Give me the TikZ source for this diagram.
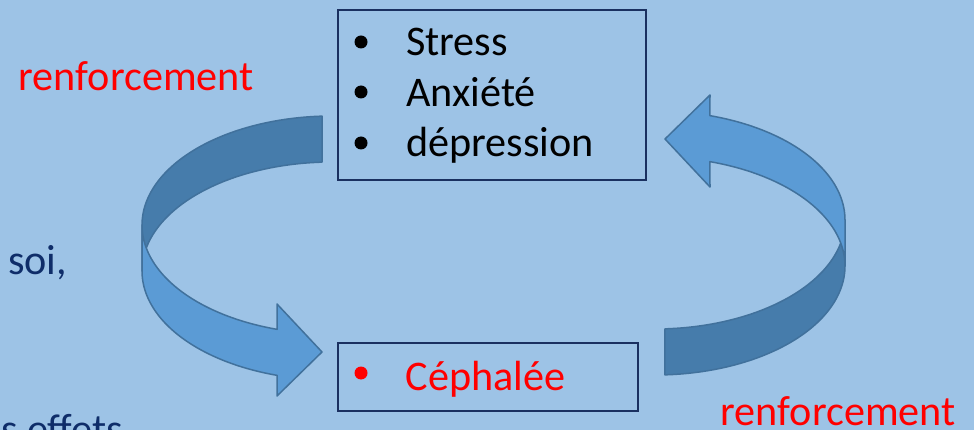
\documentclass[tikz,border=0pt]{standalone}
\usepackage{fontspec}
\setmainfont{Carlito}
\definecolor{bgc}{HTML}{9DC3E6}
\definecolor{frontc}{HTML}{5B9BD5}
\definecolor{backc}{HTML}{467CAB}
\definecolor{edgec}{HTML}{41719C}
\definecolor{navy}{HTML}{0F2D69}
\definecolor{boxc}{HTML}{1A3060}
\definecolor{redc}{HTML}{FF0000}
\newcommand{\cyclearrow}{%
  \filldraw[backc,draw=edgec,line width=1.5pt,line join=round]
    plot[domain=267:180,samples=60] ({332+190*cos(\x)},{225+109*sin(\x)})
    -- plot[domain=180:267,samples=60] ({332+190*cos(\x)},{271+109*sin(\x)}) -- cycle;
  \filldraw[frontc,draw=edgec,line width=1.5pt,line join=round]
    plot[domain=180:106.8,samples=60] ({332+190*cos(\x)},{225+109*sin(\x)})
    -- (277,304) -- (322,352) -- (277,396)
    -- plot[domain=106.8:180,samples=60] ({332+190*cos(\x)},{271+109*sin(\x)}) -- cycle;
}
\tikzset{
  txt/.style={anchor=base west,inner sep=0pt,font=\fontsize{42.2}{50}\selectfont},
  listbox/.style={draw=boxc,line width=1.6pt},
  bul/.style={circle,fill=#1,inner sep=0pt,minimum size=13pt}
}
\begin{document}
\begin{tikzpicture}[x=1pt,y=-1pt]
\fill[bgc] (0,0) rectangle (974,430);
\useasboundingbox (0,0) rectangle (974,430);
\clip (0,0) rectangle (974,430);
% arrows
\cyclearrow
\begin{scope}[rotate around={180:(493.5,245.5)}]
\cyclearrow
\end{scope}
% boxes
\node[listbox,minimum width=308pt,minimum height=170pt,anchor=north west,inner sep=0pt] (top) at (337,9) {};
\node[listbox,minimum width=300pt,minimum height=68pt,anchor=north west,inner sep=0pt] (bot) at (337,342) {};
% top box contents
\node[bul=black] (b1) at (361,42) {};
\node[bul=black] (b2) at (361,92) {};
\node[bul=black] (b3) at (361,143) {};
\node[txt,text=black] (t1) at (406,56) {Stress};
\node[txt,text=black] (t2) at (406,106.5) {Anxiété};
\node[txt,text=black] (t3) at (406,157) {dépression};
% bottom box contents
\node[bul=redc] (b4) at (361,373) {};
\node[txt,text=redc] (t4) at (405.5,390) {Céphalée};
% side labels
\node[txt,text=redc] (r1) at (18.5,91) {renforcement};
\node[txt,text=redc] (r2) at (720.5,425) {renforcement};
\node[txt,text=navy] (s1) at (8,275) {soi,};
\node[txt,text=navy] (s2) at (1,443) {s effets};
\end{tikzpicture}
\end{document}
